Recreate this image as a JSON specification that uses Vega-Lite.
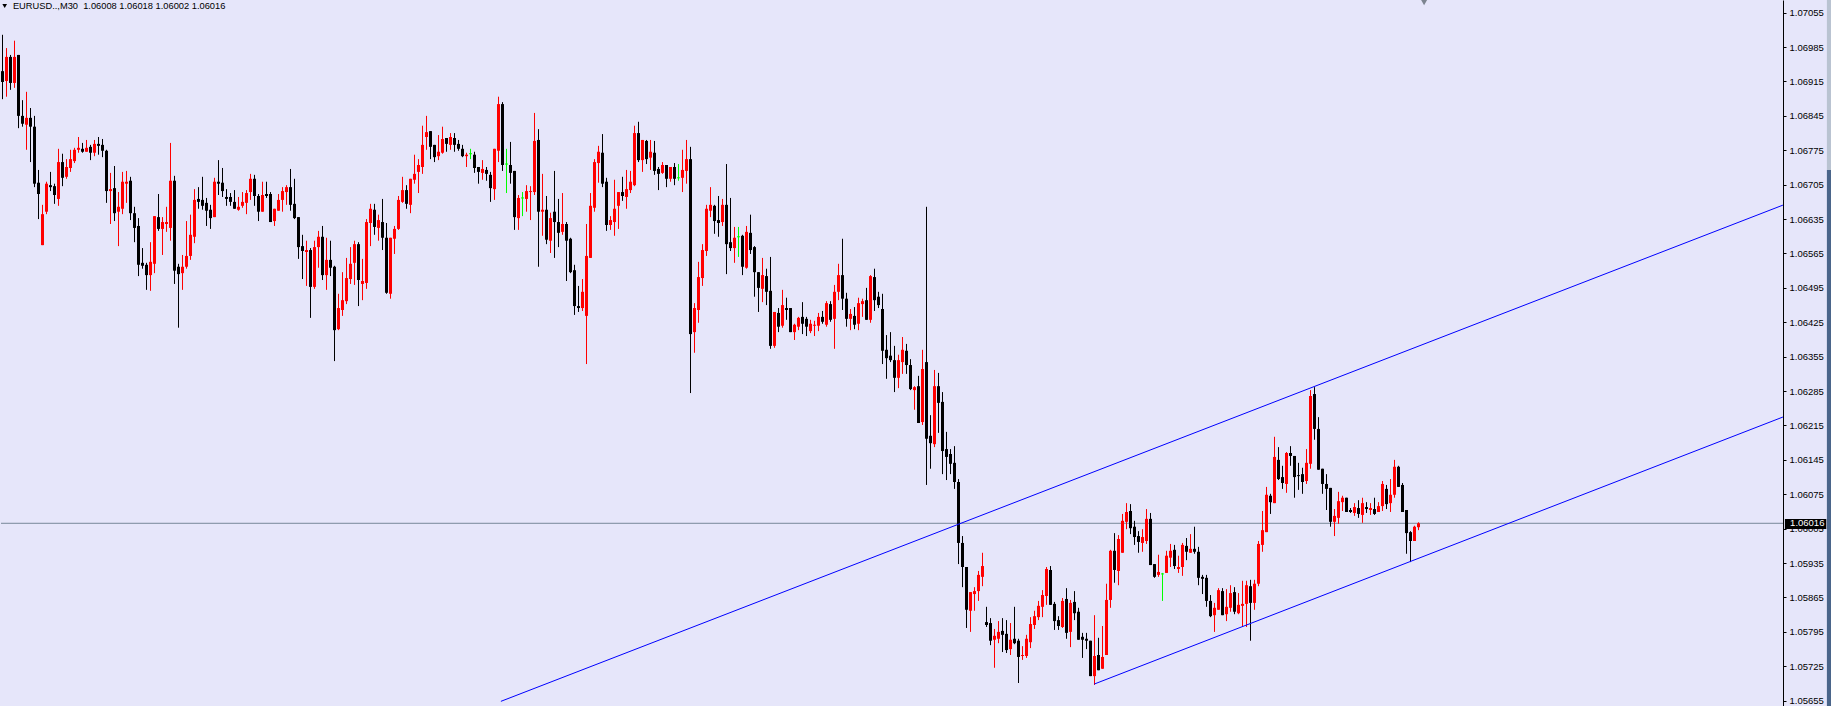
{
"$schema": "https://vega.github.io/schema/vega-lite/v6.json",
"width": 1782,
"height": 706,
"padding": 0,
"background": "#E6E6FA",
"config": {"view": {"stroke": null, "fill": "#E6E6FA"}, "scale": {"continuousPadding": 0},
"axis": {"labelOverlap": false, "labelFont": "Liberation Sans", "labelFontSize": 9.5, "labelColor": "#000000", "tickColor": "#000000", "domainColor": "#000000", "tickSize": 3, "labelPadding": 3, "grid": false, "labelBound": false, "labelFlush": false}},
"datasets": {
"candles": [
{"i":0,"o":1.06936,"h":1.07010,"l":1.06879,"c":1.06914},
{"i":1,"o":1.06916,"h":1.06983,"l":1.06884,"c":1.06965},
{"i":2,"o":1.06965,"h":1.06969,"l":1.06898,"c":1.06912},
{"i":3,"o":1.06912,"h":1.06998,"l":1.06902,"c":1.06965},
{"i":4,"o":1.06969,"h":1.06969,"l":1.06820,"c":1.06845},
{"i":5,"o":1.06845,"h":1.06877,"l":1.06823,"c":1.06829},
{"i":6,"o":1.06827,"h":1.06894,"l":1.06776,"c":1.06841},
{"i":7,"o":1.06841,"h":1.06861,"l":1.06751,"c":1.06823},
{"i":8,"o":1.06823,"h":1.06845,"l":1.06700,"c":1.06707},
{"i":9,"o":1.06709,"h":1.06735,"l":1.06635,"c":1.06686},
{"i":10,"o":1.06582,"h":1.06664,"l":1.06582,"c":1.06645},
{"i":11,"o":1.06650,"h":1.06711,"l":1.06645,"c":1.06707},
{"i":12,"o":1.06704,"h":1.06731,"l":1.06692,"c":1.06700},
{"i":13,"o":1.06702,"h":1.06707,"l":1.06666,"c":1.06684},
{"i":14,"o":1.06676,"h":1.06778,"l":1.06662,"c":1.06751},
{"i":15,"o":1.06751,"h":1.06768,"l":1.06702,"c":1.06719},
{"i":16,"o":1.06721,"h":1.06757,"l":1.06717,"c":1.06741},
{"i":17,"o":1.06739,"h":1.06776,"l":1.06731,"c":1.06757},
{"i":18,"o":1.06753,"h":1.06780,"l":1.06749,"c":1.06776},
{"i":19,"o":1.06776,"h":1.06802,"l":1.06770,"c":1.06780},
{"i":20,"o":1.06778,"h":1.06790,"l":1.06770,"c":1.06772},
{"i":21,"o":1.06772,"h":1.06796,"l":1.06772,"c":1.06780},
{"i":22,"o":1.06782,"h":1.06786,"l":1.06755,"c":1.06770},
{"i":23,"o":1.06770,"h":1.06796,"l":1.06763,"c":1.06788},
{"i":24,"o":1.06788,"h":1.06802,"l":1.06766,"c":1.06784},
{"i":25,"o":1.06786,"h":1.06798,"l":1.06761,"c":1.06774},
{"i":26,"o":1.06774,"h":1.06776,"l":1.06668,"c":1.06692},
{"i":27,"o":1.06692,"h":1.06729,"l":1.06625,"c":1.06696},
{"i":28,"o":1.06698,"h":1.06743,"l":1.06631,"c":1.06647},
{"i":29,"o":1.06650,"h":1.06690,"l":1.06580,"c":1.06660},
{"i":30,"o":1.06656,"h":1.06731,"l":1.06645,"c":1.06711},
{"i":31,"o":1.06707,"h":1.06733,"l":1.06668,"c":1.06711},
{"i":32,"o":1.06713,"h":1.06721,"l":1.06633,"c":1.06647},
{"i":33,"o":1.06647,"h":1.06660,"l":1.06588,"c":1.06617},
{"i":34,"o":1.06621,"h":1.06637,"l":1.06519,"c":1.06542},
{"i":35,"o":1.06546,"h":1.06576,"l":1.06534,"c":1.06540},
{"i":36,"o":1.06542,"h":1.06546,"l":1.06491,"c":1.06521},
{"i":37,"o":1.06521,"h":1.06588,"l":1.06489,"c":1.06548},
{"i":38,"o":1.06544,"h":1.06641,"l":1.06525,"c":1.06641},
{"i":39,"o":1.06639,"h":1.06686,"l":1.06611,"c":1.06615},
{"i":40,"o":1.06615,"h":1.06639,"l":1.06562,"c":1.06629},
{"i":41,"o":1.06625,"h":1.06660,"l":1.06609,"c":1.06629},
{"i":42,"o":1.06617,"h":1.06790,"l":1.06591,"c":1.06713},
{"i":43,"o":1.06713,"h":1.06723,"l":1.06503,"c":1.06530},
{"i":44,"o":1.06538,"h":1.06544,"l":1.06414,"c":1.06523},
{"i":45,"o":1.06525,"h":1.06562,"l":1.06491,"c":1.06538},
{"i":46,"o":1.06538,"h":1.06631,"l":1.06534,"c":1.06560},
{"i":47,"o":1.06560,"h":1.06644,"l":1.06552,"c":1.06603},
{"i":48,"o":1.06599,"h":1.06696,"l":1.06586,"c":1.06674},
{"i":49,"o":1.06676,"h":1.06700,"l":1.06656,"c":1.06670},
{"i":50,"o":1.06674,"h":1.06721,"l":1.06654,"c":1.06662},
{"i":51,"o":1.06668,"h":1.06678,"l":1.06621,"c":1.06652},
{"i":52,"o":1.06654,"h":1.06664,"l":1.06615,"c":1.06637},
{"i":53,"o":1.06639,"h":1.06719,"l":1.06639,"c":1.06711},
{"i":54,"o":1.06711,"h":1.06755,"l":1.06684,"c":1.06707},
{"i":55,"o":1.06709,"h":1.06739,"l":1.06680,"c":1.06692},
{"i":56,"o":1.06680,"h":1.06696,"l":1.06662,"c":1.06676},
{"i":57,"o":1.06680,"h":1.06688,"l":1.06662,"c":1.06670},
{"i":58,"o":1.06670,"h":1.06694,"l":1.06656,"c":1.06656},
{"i":59,"o":1.06654,"h":1.06680,"l":1.06652,"c":1.06660},
{"i":60,"o":1.06662,"h":1.06690,"l":1.06658,"c":1.06670},
{"i":61,"o":1.06668,"h":1.06694,"l":1.06645,"c":1.06688},
{"i":62,"o":1.06690,"h":1.06727,"l":1.06674,"c":1.06717},
{"i":63,"o":1.06717,"h":1.06725,"l":1.06662,"c":1.06682},
{"i":64,"o":1.06682,"h":1.06686,"l":1.06631,"c":1.06650},
{"i":65,"o":1.06650,"h":1.06711,"l":1.06650,"c":1.06684},
{"i":66,"o":1.06686,"h":1.06711,"l":1.06678,"c":1.06682},
{"i":67,"o":1.06686,"h":1.06690,"l":1.06629,"c":1.06629},
{"i":68,"o":1.06631,"h":1.06656,"l":1.06621,"c":1.06656},
{"i":69,"o":1.06652,"h":1.06686,"l":1.06652,"c":1.06674},
{"i":70,"o":1.06674,"h":1.06700,"l":1.06650,"c":1.06692},
{"i":71,"o":1.06690,"h":1.06704,"l":1.06664,"c":1.06700},
{"i":72,"o":1.06700,"h":1.06737,"l":1.06652,"c":1.06664},
{"i":73,"o":1.06666,"h":1.06717,"l":1.06635,"c":1.06637},
{"i":74,"o":1.06639,"h":1.06639,"l":1.06554,"c":1.06578},
{"i":75,"o":1.06580,"h":1.06603,"l":1.06513,"c":1.06570},
{"i":76,"o":1.06568,"h":1.06591,"l":1.06499,"c":1.06572},
{"i":77,"o":1.06572,"h":1.06576,"l":1.06434,"c":1.06497},
{"i":78,"o":1.06497,"h":1.06591,"l":1.06493,"c":1.06578},
{"i":79,"o":1.06578,"h":1.06611,"l":1.06536,"c":1.06599},
{"i":80,"o":1.06599,"h":1.06621,"l":1.06511,"c":1.06521},
{"i":81,"o":1.06521,"h":1.06597,"l":1.06491,"c":1.06552},
{"i":82,"o":1.06552,"h":1.06591,"l":1.06519,"c":1.06536},
{"i":83,"o":1.06538,"h":1.06540,"l":1.06346,"c":1.06409},
{"i":84,"o":1.06411,"h":1.06483,"l":1.06409,"c":1.06454},
{"i":85,"o":1.06450,"h":1.06527,"l":1.06438,"c":1.06470},
{"i":86,"o":1.06468,"h":1.06556,"l":1.06462,"c":1.06515},
{"i":87,"o":1.06513,"h":1.06578,"l":1.06503,"c":1.06544},
{"i":88,"o":1.06546,"h":1.06591,"l":1.06501,"c":1.06584},
{"i":89,"o":1.06584,"h":1.06588,"l":1.06458,"c":1.06511},
{"i":90,"o":1.06503,"h":1.06554,"l":1.06470,"c":1.06509},
{"i":91,"o":1.06505,"h":1.06635,"l":1.06493,"c":1.06629},
{"i":92,"o":1.06627,"h":1.06666,"l":1.06580,"c":1.06656},
{"i":93,"o":1.06654,"h":1.06666,"l":1.06603,"c":1.06619},
{"i":94,"o":1.06617,"h":1.06644,"l":1.06591,"c":1.06633},
{"i":95,"o":1.06629,"h":1.06676,"l":1.06572,"c":1.06597},
{"i":96,"o":1.06597,"h":1.06627,"l":1.06483,"c":1.06485},
{"i":97,"o":1.06483,"h":1.06597,"l":1.06473,"c":1.06597},
{"i":98,"o":1.06595,"h":1.06621,"l":1.06564,"c":1.06615},
{"i":99,"o":1.06615,"h":1.06682,"l":1.06613,"c":1.06674},
{"i":100,"o":1.06670,"h":1.06721,"l":1.06668,"c":1.06694},
{"i":101,"o":1.06694,"h":1.06704,"l":1.06656,"c":1.06666},
{"i":102,"o":1.06664,"h":1.06717,"l":1.06647,"c":1.06717},
{"i":103,"o":1.06715,"h":1.06766,"l":1.06707,"c":1.06727},
{"i":104,"o":1.06731,"h":1.06757,"l":1.06688,"c":1.06745},
{"i":105,"o":1.06741,"h":1.06825,"l":1.06727,"c":1.06786},
{"i":106,"o":1.06802,"h":1.06845,"l":1.06776,"c":1.06812},
{"i":107,"o":1.06814,"h":1.06814,"l":1.06757,"c":1.06782},
{"i":108,"o":1.06786,"h":1.06786,"l":1.06751,"c":1.06761},
{"i":109,"o":1.06763,"h":1.06806,"l":1.06755,"c":1.06772},
{"i":110,"o":1.06770,"h":1.06823,"l":1.06768,"c":1.06798},
{"i":111,"o":1.06800,"h":1.06800,"l":1.06772,"c":1.06788},
{"i":112,"o":1.06786,"h":1.06810,"l":1.06776,"c":1.06802},
{"i":113,"o":1.06800,"h":1.06810,"l":1.06772,"c":1.06786},
{"i":114,"o":1.06788,"h":1.06796,"l":1.06774,"c":1.06778},
{"i":115,"o":1.06778,"h":1.06786,"l":1.06761,"c":1.06763},
{"i":116,"o":1.06763,"h":1.06770,"l":1.06741,"c":1.06766},
{"i":117,"o":1.06768,"h":1.06778,"l":1.06757,"c":1.06768},
{"i":118,"o":1.06766,"h":1.06772,"l":1.06729,"c":1.06739},
{"i":119,"o":1.06741,"h":1.06741,"l":1.06707,"c":1.06731},
{"i":120,"o":1.06729,"h":1.06755,"l":1.06715,"c":1.06737},
{"i":121,"o":1.06735,"h":1.06741,"l":1.06713,"c":1.06727},
{"i":122,"o":1.06725,"h":1.06731,"l":1.06670,"c":1.06698},
{"i":123,"o":1.06696,"h":1.06778,"l":1.06674,"c":1.06778},
{"i":124,"o":1.06774,"h":1.06884,"l":1.06751,"c":1.06869},
{"i":125,"o":1.06869,"h":1.06873,"l":1.06733,"c":1.06745},
{"i":126,"o":1.06747,"h":1.06778,"l":1.06688,"c":1.06747},
{"i":127,"o":1.06745,"h":1.06792,"l":1.06707,"c":1.06729},
{"i":128,"o":1.06733,"h":1.06733,"l":1.06613,"c":1.06639},
{"i":129,"o":1.06637,"h":1.06684,"l":1.06613,"c":1.06678},
{"i":130,"o":1.06678,"h":1.06690,"l":1.06641,"c":1.06678},
{"i":131,"o":1.06676,"h":1.06704,"l":1.06650,"c":1.06692},
{"i":132,"o":1.06690,"h":1.06702,"l":1.06633,"c":1.06692},
{"i":133,"o":1.06690,"h":1.06851,"l":1.06684,"c":1.06794},
{"i":134,"o":1.06796,"h":1.06818,"l":1.06538,"c":1.06650},
{"i":135,"o":1.06650,"h":1.06727,"l":1.06601,"c":1.06654},
{"i":136,"o":1.06654,"h":1.06682,"l":1.06584,"c":1.06593},
{"i":137,"o":1.06591,"h":1.06648,"l":1.06566,"c":1.06637},
{"i":138,"o":1.06650,"h":1.06733,"l":1.06556,"c":1.06629},
{"i":139,"o":1.06629,"h":1.06676,"l":1.06578,"c":1.06607},
{"i":140,"o":1.06609,"h":1.06688,"l":1.06603,"c":1.06625},
{"i":141,"o":1.06625,"h":1.06629,"l":1.06509,"c":1.06591},
{"i":142,"o":1.06595,"h":1.06597,"l":1.06525,"c":1.06527},
{"i":143,"o":1.06531,"h":1.06542,"l":1.06440,"c":1.06458},
{"i":144,"o":1.06458,"h":1.06499,"l":1.06446,"c":1.06454},
{"i":145,"o":1.06454,"h":1.06513,"l":1.06448,"c":1.06487},
{"i":146,"o":1.06438,"h":1.06625,"l":1.06340,"c":1.06560},
{"i":147,"o":1.06556,"h":1.06688,"l":1.06556,"c":1.06662},
{"i":148,"o":1.06658,"h":1.06757,"l":1.06650,"c":1.06751},
{"i":149,"o":1.06749,"h":1.06784,"l":1.06709,"c":1.06772},
{"i":150,"o":1.06770,"h":1.06808,"l":1.06700,"c":1.06707},
{"i":151,"o":1.06711,"h":1.06719,"l":1.06611,"c":1.06623},
{"i":152,"o":1.06623,"h":1.06641,"l":1.06613,"c":1.06633},
{"i":153,"o":1.06629,"h":1.06715,"l":1.06601,"c":1.06656},
{"i":154,"o":1.06662,"h":1.06690,"l":1.06615,"c":1.06690},
{"i":155,"o":1.06690,"h":1.06721,"l":1.06672,"c":1.06682},
{"i":156,"o":1.06680,"h":1.06735,"l":1.06656,"c":1.06696},
{"i":157,"o":1.06694,"h":1.06733,"l":1.06688,"c":1.06711},
{"i":158,"o":1.06704,"h":1.06825,"l":1.06702,"c":1.06810},
{"i":159,"o":1.06810,"h":1.06833,"l":1.06751,"c":1.06755},
{"i":160,"o":1.06755,"h":1.06796,"l":1.06731,"c":1.06796},
{"i":161,"o":1.06794,"h":1.06796,"l":1.06747,"c":1.06757},
{"i":162,"o":1.06760,"h":1.06796,"l":1.06735,"c":1.06772},
{"i":163,"o":1.06770,"h":1.06794,"l":1.06725,"c":1.06733},
{"i":164,"o":1.06737,"h":1.06741,"l":1.06694,"c":1.06727},
{"i":165,"o":1.06729,"h":1.06751,"l":1.06727,"c":1.06745},
{"i":166,"o":1.06745,"h":1.06745,"l":1.06700,"c":1.06717},
{"i":167,"o":1.06717,"h":1.06741,"l":1.06711,"c":1.06741},
{"i":168,"o":1.06741,"h":1.06749,"l":1.06704,"c":1.06717},
{"i":169,"o":1.06719,"h":1.06747,"l":1.06713,"c":1.06719},
{"i":170,"o":1.06719,"h":1.06776,"l":1.06690,"c":1.06735},
{"i":171,"o":1.06733,"h":1.06796,"l":1.06707,"c":1.06757},
{"i":172,"o":1.06757,"h":1.06782,"l":1.06281,"c":1.06401},
{"i":173,"o":1.06405,"h":1.06464,"l":1.06363,"c":1.06454},
{"i":174,"o":1.06450,"h":1.06548,"l":1.06424,"c":1.06517},
{"i":175,"o":1.06515,"h":1.06584,"l":1.06499,"c":1.06572},
{"i":176,"o":1.06570,"h":1.06664,"l":1.06560,"c":1.06656},
{"i":177,"o":1.06652,"h":1.06700,"l":1.06639,"c":1.06664},
{"i":178,"o":1.06662,"h":1.06664,"l":1.06605,"c":1.06631},
{"i":179,"o":1.06633,"h":1.06682,"l":1.06599,"c":1.06627},
{"i":180,"o":1.06629,"h":1.06676,"l":1.06621,"c":1.06664},
{"i":181,"o":1.06664,"h":1.06747,"l":1.06523,"c":1.06584},
{"i":182,"o":1.06588,"h":1.06678,"l":1.06570,"c":1.06576},
{"i":183,"o":1.06576,"h":1.06619,"l":1.06546,"c":1.06597},
{"i":184,"o":1.06599,"h":1.06619,"l":1.06558,"c":1.06599},
{"i":185,"o":1.06601,"h":1.06603,"l":1.06521,"c":1.06538},
{"i":186,"o":1.06536,"h":1.06621,"l":1.06534,"c":1.06609},
{"i":187,"o":1.06607,"h":1.06644,"l":1.06564,"c":1.06572},
{"i":188,"o":1.06578,"h":1.06580,"l":1.06477,"c":1.06527},
{"i":189,"o":1.06527,"h":1.06527,"l":1.06446,"c":1.06495},
{"i":190,"o":1.06493,"h":1.06556,"l":1.06466,"c":1.06521},
{"i":191,"o":1.06519,"h":1.06534,"l":1.06460,"c":1.06487},
{"i":192,"o":1.06489,"h":1.06558,"l":1.06371,"c":1.06377},
{"i":193,"o":1.06377,"h":1.06446,"l":1.06373,"c":1.06446},
{"i":194,"o":1.06444,"h":1.06454,"l":1.06405,"c":1.06416},
{"i":195,"o":1.06418,"h":1.06491,"l":1.06414,"c":1.06460},
{"i":196,"o":1.06454,"h":1.06475,"l":1.06430,"c":1.06450},
{"i":197,"o":1.06454,"h":1.06454,"l":1.06405,"c":1.06405},
{"i":198,"o":1.06405,"h":1.06422,"l":1.06389,"c":1.06420},
{"i":199,"o":1.06416,"h":1.06436,"l":1.06409,"c":1.06434},
{"i":200,"o":1.06436,"h":1.06466,"l":1.06401,"c":1.06422},
{"i":201,"o":1.06432,"h":1.06436,"l":1.06397,"c":1.06416},
{"i":202,"o":1.06407,"h":1.06430,"l":1.06403,"c":1.06422},
{"i":203,"o":1.06418,"h":1.06428,"l":1.06397,"c":1.06420},
{"i":204,"o":1.06418,"h":1.06444,"l":1.06407,"c":1.06436},
{"i":205,"o":1.06436,"h":1.06448,"l":1.06422,"c":1.06426},
{"i":206,"o":1.06420,"h":1.06468,"l":1.06416,"c":1.06464},
{"i":207,"o":1.06462,"h":1.06468,"l":1.06426,"c":1.06430},
{"i":208,"o":1.06432,"h":1.06501,"l":1.06371,"c":1.06487},
{"i":209,"o":1.06487,"h":1.06544,"l":1.06470,"c":1.06521},
{"i":210,"o":1.06521,"h":1.06595,"l":1.06450,"c":1.06473},
{"i":211,"o":1.06473,"h":1.06485,"l":1.06416,"c":1.06432},
{"i":212,"o":1.06432,"h":1.06452,"l":1.06409,"c":1.06442},
{"i":213,"o":1.06438,"h":1.06456,"l":1.06411,"c":1.06420},
{"i":214,"o":1.06422,"h":1.06475,"l":1.06409,"c":1.06464},
{"i":215,"o":1.06462,"h":1.06473,"l":1.06436,"c":1.06468},
{"i":216,"o":1.06470,"h":1.06495,"l":1.06430,"c":1.06430},
{"i":217,"o":1.06430,"h":1.06521,"l":1.06424,"c":1.06519},
{"i":218,"o":1.06517,"h":1.06534,"l":1.06448,"c":1.06470},
{"i":219,"o":1.06477,"h":1.06487,"l":1.06454,"c":1.06460},
{"i":220,"o":1.06452,"h":1.06483,"l":1.06340,"c":1.06367},
{"i":221,"o":1.06369,"h":1.06399,"l":1.06310,"c":1.06352},
{"i":222,"o":1.06357,"h":1.06405,"l":1.06344,"c":1.06348},
{"i":223,"o":1.06348,"h":1.06377,"l":1.06283,"c":1.06312},
{"i":224,"o":1.06312,"h":1.06359,"l":1.06291,"c":1.06348},
{"i":225,"o":1.06344,"h":1.06395,"l":1.06320,"c":1.06369},
{"i":226,"o":1.06367,"h":1.06381,"l":1.06320,"c":1.06338},
{"i":227,"o":1.06338,"h":1.06350,"l":1.06287,"c":1.06289},
{"i":228,"o":1.06287,"h":1.06295,"l":1.06247,"c":1.06293},
{"i":229,"o":1.06295,"h":1.06316,"l":1.06220,"c":1.06220},
{"i":230,"o":1.06222,"h":1.06369,"l":1.06216,"c":1.06330},
{"i":231,"o":1.06344,"h":1.06660,"l":1.06094,"c":1.06188},
{"i":232,"o":1.06194,"h":1.06236,"l":1.06127,"c":1.06179},
{"i":233,"o":1.06177,"h":1.06328,"l":1.06171,"c":1.06295},
{"i":234,"o":1.06295,"h":1.06322,"l":1.06200,"c":1.06261},
{"i":235,"o":1.06263,"h":1.06283,"l":1.06116,"c":1.06163},
{"i":236,"o":1.06167,"h":1.06202,"l":1.06104,"c":1.06151},
{"i":237,"o":1.06157,"h":1.06167,"l":1.06116,"c":1.06137},
{"i":238,"o":1.06139,"h":1.06173,"l":1.06086,"c":1.06100},
{"i":239,"o":1.06100,"h":1.06106,"l":1.05933,"c":1.05976},
{"i":240,"o":1.05976,"h":1.05990,"l":1.05886,"c":1.05927},
{"i":241,"o":1.05927,"h":1.05927,"l":1.05803,"c":1.05840},
{"i":242,"o":1.05838,"h":1.05876,"l":1.05795,"c":1.05876},
{"i":243,"o":1.05872,"h":1.05886,"l":1.05838,"c":1.05878},
{"i":244,"o":1.05878,"h":1.05919,"l":1.05858,"c":1.05911},
{"i":245,"o":1.05907,"h":1.05956,"l":1.05888,"c":1.05929},
{"i":246,"o":1.05815,"h":1.05846,"l":1.05805,"c":1.05809},
{"i":247,"o":1.05813,"h":1.05823,"l":1.05768,"c":1.05777},
{"i":248,"o":1.05779,"h":1.05801,"l":1.05722,"c":1.05787},
{"i":249,"o":1.05781,"h":1.05817,"l":1.05772,"c":1.05795},
{"i":250,"o":1.05797,"h":1.05823,"l":1.05754,"c":1.05789},
{"i":251,"o":1.05791,"h":1.05819,"l":1.05752,"c":1.05758},
{"i":252,"o":1.05760,"h":1.05813,"l":1.05748,"c":1.05779},
{"i":253,"o":1.05781,"h":1.05846,"l":1.05770,"c":1.05772},
{"i":254,"o":1.05777,"h":1.05781,"l":1.05691,"c":1.05744},
{"i":255,"o":1.05746,"h":1.05766,"l":1.05738,"c":1.05748},
{"i":256,"o":1.05746,"h":1.05789,"l":1.05742,"c":1.05781},
{"i":257,"o":1.05774,"h":1.05825,"l":1.05762,"c":1.05811},
{"i":258,"o":1.05809,"h":1.05838,"l":1.05801,"c":1.05827},
{"i":259,"o":1.05825,"h":1.05858,"l":1.05819,"c":1.05848},
{"i":260,"o":1.05846,"h":1.05880,"l":1.05825,"c":1.05870},
{"i":261,"o":1.05868,"h":1.05927,"l":1.05850,"c":1.05923},
{"i":262,"o":1.05921,"h":1.05929,"l":1.05850,"c":1.05850},
{"i":263,"o":1.05852,"h":1.05856,"l":1.05799,"c":1.05817},
{"i":264,"o":1.05819,"h":1.05827,"l":1.05799,"c":1.05807},
{"i":265,"o":1.05805,"h":1.05864,"l":1.05803,"c":1.05858},
{"i":266,"o":1.05862,"h":1.05884,"l":1.05781,"c":1.05793},
{"i":267,"o":1.05795,"h":1.05860,"l":1.05764,"c":1.05854},
{"i":268,"o":1.05856,"h":1.05878,"l":1.05819,"c":1.05833},
{"i":269,"o":1.05836,"h":1.05844,"l":1.05779,"c":1.05779},
{"i":270,"o":1.05785,"h":1.05793,"l":1.05742,"c":1.05779},
{"i":271,"o":1.05781,"h":1.05793,"l":1.05760,"c":1.05777},
{"i":272,"o":1.05777,"h":1.05777,"l":1.05705,"c":1.05705},
{"i":273,"o":1.05705,"h":1.05829,"l":1.05687,"c":1.05746},
{"i":274,"o":1.05748,"h":1.05783,"l":1.05717,"c":1.05717},
{"i":275,"o":1.05720,"h":1.05807,"l":1.05720,"c":1.05744},
{"i":276,"o":1.05748,"h":1.05893,"l":1.05748,"c":1.05860},
{"i":277,"o":1.05860,"h":1.05962,"l":1.05844,"c":1.05960},
{"i":278,"o":1.05960,"h":1.05996,"l":1.05895,"c":1.05921},
{"i":279,"o":1.05919,"h":1.05992,"l":1.05890,"c":1.05984},
{"i":280,"o":1.05956,"h":1.06035,"l":1.05956,"c":1.06021},
{"i":281,"o":1.06019,"h":1.06057,"l":1.06004,"c":1.06039},
{"i":282,"o":1.06041,"h":1.06055,"l":1.05994,"c":1.06006},
{"i":283,"o":1.06009,"h":1.06021,"l":1.05972,"c":1.05988},
{"i":284,"o":1.05990,"h":1.06000,"l":1.05956,"c":1.05978},
{"i":285,"o":1.05976,"h":1.06004,"l":1.05958,"c":1.05988},
{"i":286,"o":1.05980,"h":1.06045,"l":1.05974,"c":1.06025},
{"i":287,"o":1.06025,"h":1.06037,"l":1.05931,"c":1.05931},
{"i":288,"o":1.05933,"h":1.05933,"l":1.05905,"c":1.05907},
{"i":289,"o":1.05911,"h":1.05952,"l":1.05907,"c":1.05917},
{"i":290,"o":1.05913,"h":1.05915,"l":1.05858,"c":1.05913},
{"i":291,"o":1.05915,"h":1.05960,"l":1.05915,"c":1.05950},
{"i":292,"o":1.05946,"h":1.05974,"l":1.05927,"c":1.05960},
{"i":293,"o":1.05962,"h":1.05972,"l":1.05923,"c":1.05929},
{"i":294,"o":1.05923,"h":1.05950,"l":1.05915,"c":1.05927},
{"i":295,"o":1.05927,"h":1.05976,"l":1.05909,"c":1.05972},
{"i":296,"o":1.05970,"h":1.05986,"l":1.05941,"c":1.05958},
{"i":297,"o":1.05956,"h":1.05994,"l":1.05956,"c":1.05964},
{"i":298,"o":1.05964,"h":1.06009,"l":1.05954,"c":1.05958},
{"i":299,"o":1.05958,"h":1.05968,"l":1.05890,"c":1.05905},
{"i":300,"o":1.05907,"h":1.05911,"l":1.05872,"c":1.05903},
{"i":301,"o":1.05905,"h":1.05911,"l":1.05846,"c":1.05858},
{"i":302,"o":1.05858,"h":1.05870,"l":1.05825,"c":1.05827},
{"i":303,"o":1.05829,"h":1.05854,"l":1.05795,"c":1.05844},
{"i":304,"o":1.05840,"h":1.05884,"l":1.05840,"c":1.05880},
{"i":305,"o":1.05878,"h":1.05884,"l":1.05829,"c":1.05829},
{"i":306,"o":1.05831,"h":1.05882,"l":1.05817,"c":1.05846},
{"i":307,"o":1.05844,"h":1.05890,"l":1.05836,"c":1.05874},
{"i":308,"o":1.05876,"h":1.05886,"l":1.05831,"c":1.05836},
{"i":309,"o":1.05833,"h":1.05874,"l":1.05831,"c":1.05850},
{"i":310,"o":1.05848,"h":1.05899,"l":1.05805,"c":1.05852},
{"i":311,"o":1.05852,"h":1.05899,"l":1.05805,"c":1.05890},
{"i":312,"o":1.05888,"h":1.05901,"l":1.05777,"c":1.05854},
{"i":313,"o":1.05854,"h":1.05901,"l":1.05840,"c":1.05893},
{"i":314,"o":1.05893,"h":1.05980,"l":1.05888,"c":1.05974},
{"i":315,"o":1.05972,"h":1.06041,"l":1.05958,"c":1.06002},
{"i":316,"o":1.05998,"h":1.06090,"l":1.05998,"c":1.06074},
{"i":317,"o":1.06072,"h":1.06076,"l":1.06035,"c":1.06059},
{"i":318,"o":1.06057,"h":1.06192,"l":1.06057,"c":1.06151},
{"i":319,"o":1.06145,"h":1.06171,"l":1.06104,"c":1.06106},
{"i":320,"o":1.06110,"h":1.06133,"l":1.06086,"c":1.06098},
{"i":321,"o":1.06096,"h":1.06161,"l":1.06078,"c":1.06159},
{"i":322,"o":1.06159,"h":1.06173,"l":1.06133,"c":1.06153},
{"i":323,"o":1.06153,"h":1.06153,"l":1.06068,"c":1.06110},
{"i":324,"o":1.06114,"h":1.06139,"l":1.06084,"c":1.06112},
{"i":325,"o":1.06116,"h":1.06129,"l":1.06076,"c":1.06100},
{"i":326,"o":1.06102,"h":1.06167,"l":1.06096,"c":1.06139},
{"i":327,"o":1.06137,"h":1.06287,"l":1.06127,"c":1.06275},
{"i":328,"o":1.06279,"h":1.06293,"l":1.06186,"c":1.06208},
{"i":329,"o":1.06208,"h":1.06232,"l":1.06125,"c":1.06125},
{"i":330,"o":1.06127,"h":1.06127,"l":1.06076,"c":1.06096},
{"i":331,"o":1.06096,"h":1.06116,"l":1.06043,"c":1.06086},
{"i":332,"o":1.06088,"h":1.06088,"l":1.06009,"c":1.06019},
{"i":333,"o":1.06019,"h":1.06045,"l":1.05990,"c":1.06031},
{"i":334,"o":1.06027,"h":1.06080,"l":1.06015,"c":1.06061},
{"i":335,"o":1.06059,"h":1.06072,"l":1.06041,"c":1.06068},
{"i":336,"o":1.06068,"h":1.06068,"l":1.06039,"c":1.06039},
{"i":337,"o":1.06043,"h":1.06047,"l":1.06037,"c":1.06039},
{"i":338,"o":1.06037,"h":1.06057,"l":1.06031,"c":1.06049},
{"i":339,"o":1.06047,"h":1.06063,"l":1.06027,"c":1.06035},
{"i":340,"o":1.06033,"h":1.06068,"l":1.06017,"c":1.06057},
{"i":341,"o":1.06049,"h":1.06059,"l":1.06037,"c":1.06045},
{"i":342,"o":1.06043,"h":1.06057,"l":1.06033,"c":1.06047},
{"i":343,"o":1.06045,"h":1.06068,"l":1.06033,"c":1.06035},
{"i":344,"o":1.06039,"h":1.06059,"l":1.06039,"c":1.06051},
{"i":345,"o":1.06051,"h":1.06102,"l":1.06041,"c":1.06096},
{"i":346,"o":1.06086,"h":1.06094,"l":1.06045,"c":1.06055},
{"i":347,"o":1.06057,"h":1.06106,"l":1.06039,"c":1.06074},
{"i":348,"o":1.06074,"h":1.06145,"l":1.06068,"c":1.06131},
{"i":349,"o":1.06131,"h":1.06133,"l":1.06090,"c":1.06090},
{"i":350,"o":1.06094,"h":1.06098,"l":1.06039,"c":1.06039},
{"i":351,"o":1.06043,"h":1.06043,"l":1.05954,"c":1.05996},
{"i":352,"o":1.05998,"h":1.06000,"l":1.05937,"c":1.05980},
{"i":353,"o":1.05980,"h":1.06011,"l":1.05980,"c":1.06009},
{"i":354,"o":1.06008,"h":1.06018,"l":1.06002,"c":1.06016}
],
"channel": [
{"x1":124.6,"p1":1.056537,"x2":445.1,"p2":1.066634},
{"x1":272.95,"p1":1.056889,"x2":445.1,"p2":1.062322}
]
},
"layer": [
{
"data": {"values": [{"p": 1.06016}]},
"mark": {"type": "rule", "color": "#778899", "strokeWidth": 1},
"encoding": {
"y": {"field": "p", "type": "quantitative", "title": null, "scale": {"domain": [1.056442, 1.070808], "nice": false, "zero": false, "padding": 0},
"axis": {"orient": "right", "title": null, "grid": false, "values": [1.05655,1.05725,1.05795,1.05865,1.05935,1.06005,1.06075,1.06145,1.06215,1.06285,1.06355,1.06425,1.06495,1.06565,1.06635,1.06705,1.06775,1.06845,1.06915,1.06985,1.07055], "tickCount": 60, "format": ".5f", "tickSize": 3, "labelOverlap": false, "labelFontSize": 9.5, "labelPadding": 3}}
}
},
{
"data": {"name": "candles"},
"mark": {"type": "rule", "strokeWidth": 1},
"encoding": {
"x": {"field": "i", "type": "quantitative", "scale": {"domain": [-0.375, 445.125], "nice": false, "zero": false, "padding": 0}, "axis": null},
"y": {"field": "l", "type": "quantitative", "title": null},
"y2": {"field": "h"},
"color": {"condition": [{"test": "datum.c > datum.o", "value": "#ff0000"}, {"test": "datum.c < datum.o", "value": "#000000"}], "value": "#00ff00"}
}
},
{
"data": {"name": "candles"},
"transform": [{"filter": "datum.o != datum.c"}],
"mark": {"type": "bar", "width": 3},
"encoding": {
"x": {"field": "i", "type": "quantitative", "axis": null},
"y": {"field": "o", "type": "quantitative", "title": null},
"y2": {"field": "c"},
"color": {"condition": [{"test": "datum.c > datum.o", "value": "#ff0000"}], "value": "#000000"}
}
},
{
"data": {"name": "candles"},
"transform": [{"filter": "datum.o == datum.c"}],
"mark": {"type": "tick", "orient": "horizontal", "size": 3, "thickness": 1, "color": "#00ff00", "opacity": 1},
"encoding": {
"x": {"field": "i", "type": "quantitative", "axis": null},
"y": {"field": "o", "type": "quantitative", "title": null}
}
},
{
"data": {"name": "channel"},
"mark": {"type": "rule", "color": "#0000ff", "strokeWidth": 1},
"encoding": {
"x": {"field": "x1", "type": "quantitative", "axis": null},
"x2": {"field": "x2"},
"y": {"field": "p1", "type": "quantitative", "title": null},
"y2": {"field": "p2"}
}
},
{
"data": {"values": [{"x1": 445.6, "x2": 455.95, "p1": 1.060247, "p2": 1.060043}]},
"mark": {"type": "rect", "color": "#000000"},
"encoding": {
"x": {"field": "x1", "type": "quantitative", "axis": null},
"x2": {"field": "x2"},
"y": {"field": "p1", "type": "quantitative", "title": null},
"y2": {"field": "p2"}
}
},
{
"data": {"values": [{"x": 446.9, "p": 1.06016, "t": "1.06016"}]},
"mark": {"type": "text", "color": "#ffffff", "font": "Liberation Sans", "fontSize": 9.5, "align": "left", "baseline": "middle"},
"encoding": {
"x": {"field": "x", "type": "quantitative", "axis": null},
"y": {"field": "p", "type": "quantitative", "title": null},
"text": {"field": "t"}
}
},
{
"data": {"values": [{"x": 2.6, "p": 1.07062, "t": "EURUSD..,M30\u00a0 1.06008 1.06018 1.06002 1.06016"}]},
"mark": {"type": "text", "color": "#000000", "font": "Liberation Sans", "fontSize": 9.3, "align": "left", "baseline": "alphabetic"},
"encoding": {
"x": {"field": "x", "type": "quantitative", "axis": null},
"y": {"field": "p", "type": "quantitative", "title": null},
"text": {"field": "t"}
}
},
{
"data": {"values": [{"x": 0.55, "p": 1.070686, "k": "menu"}, {"x": 355.4, "p": 1.070755, "k": "shift"}]},
"mark": {"type": "point", "shape": "triangle-down", "filled": true, "opacity": 1},
"encoding": {
"x": {"field": "x", "type": "quantitative", "axis": null},
"y": {"field": "p", "type": "quantitative", "title": null},
"size": {"condition": {"test": "datum.k == 'menu'", "value": 22}, "value": 36},
"color": {"condition": {"test": "datum.k == 'menu'", "value": "#000000"}, "value": "#7d8590"}
}
},
{
"data": {"values": [{"x1": 456.1, "x2": 458, "p1": 1.070808, "p2": 1.067349, "k": "top"}, {"x1": 456.1, "x2": 458, "p1": 1.067349, "p2": 1.056442, "k": "bottom"}]},
"mark": {"type": "rect"},
"encoding": {
"x": {"field": "x1", "type": "quantitative", "axis": null},
"x2": {"field": "x2"},
"y": {"field": "p1", "type": "quantitative", "title": null},
"y2": {"field": "p2"},
"color": {"condition": {"test": "datum.k == 'top'", "value": "#b9c3d1"}, "value": "#4a658a"}
}
}
]
}
